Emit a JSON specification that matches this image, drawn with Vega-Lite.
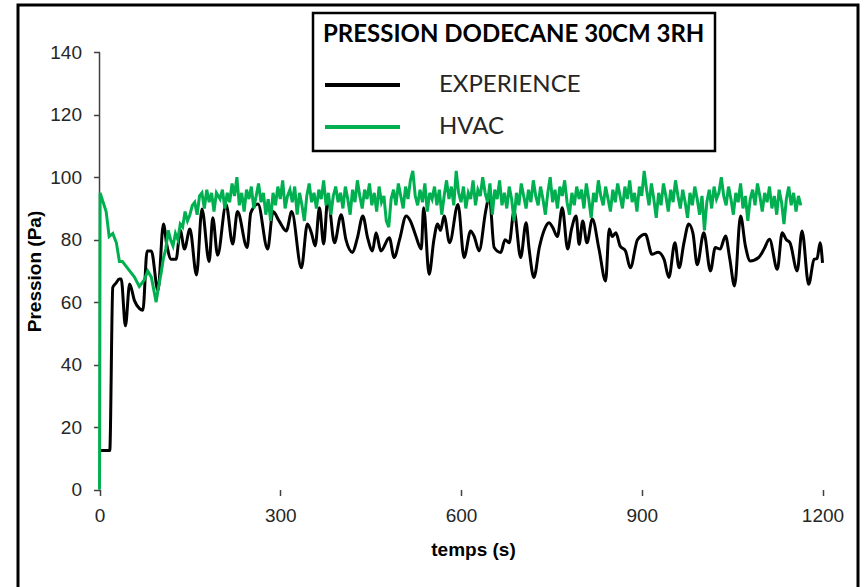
{
  "$schema": "https://vega.github.io/schema/vega-lite/v6.json",
  "width": 840,
  "height": 585,
  "padding": {"left": 18, "top": 5, "right": 8, "bottom": 0},
  "autosize": {"type": "pad"},
  "background": "white",
  "config": {
    "view": {"stroke": "black", "strokeWidth": 3},
    "legend": {"strokeWidth": 2.5},
    "axis": {
      "grid": false,
      "domain": false,
      "tickSize": 6,
      "tickColor": "#404040",
      "tickWidth": 1.5,
      "labelFont": "Liberation Sans",
      "labelFontSize": 19,
      "labelColor": "#262626",
      "titleFont": "Liberation Sans",
      "titleFontSize": 19,
      "titleFontWeight": "bold",
      "titleColor": "#000000"
    }
  },
  "datasets": {
    "exp": [
      {"t":2,"v":12.5},{"t":17,"v":12.5},{"t":22,"v":64.7},{"t":27,"v":66},{"t":33,"v":67.4},{"t":36,"v":67.4},{"t":43,"v":52.4},{"t":50,"v":65.8},{"t":58,"v":60.5},{"t":66,"v":58},{"t":72,"v":57.4},{"t":79,"v":76.4},{"t":86,"v":76.4},{"t":97,"v":63.6},{"t":106,"v":85},{"t":112,"v":78},{"t":119,"v":73.7},{"t":127,"v":73.7},{"t":134,"v":83},{"t":141,"v":77},{"t":150,"v":83.4},{"t":161,"v":68.7},{"t":170,"v":89.8},{"t":182,"v":73},{"t":188,"v":87},{"t":196,"v":75},{"t":210,"v":91.3},{"t":221,"v":78.6},{"t":229,"v":89},{"t":245,"v":77.5},{"t":251,"v":88.6},{"t":263,"v":91.4},{"t":279,"v":77},{"t":288,"v":89},{"t":298,"v":86},{"t":310,"v":82.8},{"t":319,"v":89},{"t":335,"v":71},{"t":345,"v":85},{"t":352,"v":82},{"t":358,"v":78},{"t":365,"v":90.2},{"t":372,"v":78.6},{"t":379,"v":93.4},{"t":390,"v":79},{"t":401,"v":88},{"t":409,"v":80},{"t":420,"v":75.9},{"t":428,"v":80.6},{"t":437,"v":87.6},{"t":445,"v":80.6},{"t":453,"v":76.4},{"t":459,"v":82.2},{"t":467,"v":76.4},{"t":481,"v":80.6},{"t":489,"v":74.3},{"t":498,"v":80},{"t":509,"v":87.6},{"t":516,"v":86},{"t":525,"v":81.2},{"t":534,"v":77},{"t":538,"v":90.2},{"t":547,"v":68.9},{"t":555,"v":80},{"t":561,"v":85},{"t":566,"v":83},{"t":572,"v":87.6},{"t":581,"v":79},{"t":595,"v":91.3},{"t":605,"v":74.3},{"t":616,"v":82.8},{"t":622,"v":81},{"t":630,"v":76.4},{"t":641,"v":89.2},{"t":647,"v":94},{"t":655,"v":77.5},{"t":666,"v":75.9},{"t":673,"v":80},{"t":680,"v":79},{"t":688,"v":89.2},{"t":699,"v":74.3},{"t":708,"v":85.4},{"t":713,"v":77},{"t":721,"v":67.9},{"t":730,"v":77.5},{"t":738,"v":83},{"t":746,"v":85.4},{"t":752,"v":84},{"t":760,"v":81},{"t":768,"v":90.2},{"t":777,"v":77},{"t":783,"v":83},{"t":791,"v":87.6},{"t":796,"v":78.5},{"t":802,"v":86},{"t":809,"v":79},{"t":818,"v":86.6},{"t":829,"v":77},{"t":840,"v":66.8},{"t":846,"v":83.4},{"t":851,"v":81},{"t":857,"v":82.2},{"t":864,"v":78},{"t":873,"v":76.4},{"t":881,"v":71},{"t":893,"v":80},{"t":906,"v":81.7},{"t":917,"v":75.3},{"t":927,"v":76},{"t":937,"v":73.7},{"t":945,"v":67.9},{"t":955,"v":79},{"t":962,"v":71},{"t":970,"v":79},{"t":978,"v":85},{"t":985,"v":82},{"t":992,"v":72},{"t":1003,"v":82.2},{"t":1014,"v":70},{"t":1022,"v":77.5},{"t":1030,"v":77},{"t":1039,"v":81.2},{"t":1046,"v":74},{"t":1054,"v":65.2},{"t":1064,"v":87.6},{"t":1072,"v":78},{"t":1080,"v":73.2},{"t":1094,"v":74.3},{"t":1103,"v":77},{"t":1112,"v":80.1},{"t":1125,"v":70.5},{"t":1133,"v":82.2},{"t":1140,"v":80},{"t":1146,"v":79},{"t":1158,"v":70},{"t":1166,"v":82.8},{"t":1177,"v":65.7},{"t":1186,"v":73.7},{"t":1191,"v":74},{"t":1196,"v":79},{"t":1200,"v":72.6}
    ],
    "hvac": [
      {"t":0,"v":0},{"t":1,"v":95},{"t":6,"v":92},{"t":11,"v":89},{"t":16,"v":81},{"t":22,"v":82},{"t":28,"v":79},{"t":33,"v":73},{"t":38,"v":73},{"t":42,"v":72},{"t":50,"v":70},{"t":58,"v":68},{"t":66,"v":65},{"t":70,"v":66},{"t":74,"v":67},{"t":80,"v":70},{"t":86,"v":68},{"t":90,"v":64},{"t":94,"v":60},{"t":98,"v":65},{"t":102,"v":69},{"t":106,"v":74},{"t":110,"v":77},{"t":114,"v":83},{"t":118,"v":80},{"t":122,"v":78},{"t":126,"v":82},{"t":130,"v":80},{"t":134,"v":85},{"t":138,"v":84},{"t":142,"v":89},{"t":146,"v":86},{"t":150,"v":88},{"t":154,"v":91},{"t":158,"v":92},{"t":162,"v":88},{"t":166,"v":94},{"t":170,"v":95},{"t":174,"v":90},{"t":178,"v":96},{"t":182,"v":92},{"t":186,"v":95},{"t":190,"v":89},{"t":194,"v":95},
      {"t":200,"v":93},{"t":204,"v":96},{"t":208,"v":90},{"t":212,"v":95},{"t":216,"v":92},{"t":220,"v":98},{"t":224,"v":94},{"t":228,"v":100},{"t":232,"v":91},{"t":236,"v":95},
      {"t":240,"v":89},{"t":244,"v":96},{"t":248,"v":93},{"t":252,"v":97},{"t":256,"v":90},{"t":260,"v":94},{"t":264,"v":98},{"t":268,"v":92},{"t":272,"v":95},{"t":276,"v":88},
      {"t":280,"v":93},{"t":284,"v":86},{"t":288,"v":95},{"t":292,"v":91},{"t":296,"v":97},{"t":300,"v":93},{"t":304,"v":99},{"t":308,"v":90},{"t":312,"v":94},{"t":316,"v":96},
      {"t":320,"v":92},{"t":324,"v":97},{"t":328,"v":88},{"t":332,"v":95},{"t":336,"v":91},{"t":340,"v":86},{"t":344,"v":94},{"t":348,"v":98},{"t":352,"v":92},{"t":356,"v":95},
      {"t":360,"v":90},{"t":364,"v":96},{"t":368,"v":93},{"t":372,"v":99},{"t":376,"v":91},{"t":380,"v":95},{"t":384,"v":88},{"t":388,"v":94},{"t":392,"v":97},{"t":396,"v":92},
      {"t":400,"v":95},{"t":404,"v":90},{"t":408,"v":97},{"t":412,"v":93},{"t":416,"v":88},{"t":420,"v":96},{"t":424,"v":92},{"t":428,"v":99},{"t":432,"v":94},{"t":436,"v":90},
      {"t":440,"v":96},{"t":444,"v":93},{"t":448,"v":98},{"t":452,"v":91},{"t":456,"v":95},{"t":460,"v":89},{"t":464,"v":97},{"t":468,"v":92},{"t":472,"v":94},{"t":476,"v":86},
      {"t":480,"v":84},{"t":484,"v":93},{"t":488,"v":96},{"t":492,"v":91},{"t":496,"v":98},{"t":500,"v":94},{"t":504,"v":90},{"t":508,"v":97},{"t":512,"v":93},{"t":516,"v":99},
      {"t":520,"v":102},{"t":524,"v":94},{"t":528,"v":91},{"t":532,"v":96},{"t":536,"v":92},{"t":540,"v":98},{"t":544,"v":89},{"t":548,"v":95},{"t":552,"v":93},{"t":556,"v":97},
      {"t":560,"v":91},{"t":564,"v":96},{"t":568,"v":88},{"t":572,"v":94},{"t":576,"v":99},{"t":580,"v":93},{"t":584,"v":97},{"t":588,"v":91},{"t":592,"v":102},{"t":596,"v":95},
      {"t":600,"v":92},{"t":604,"v":97},{"t":608,"v":90},{"t":612,"v":95},{"t":616,"v":93},{"t":620,"v":99},{"t":624,"v":91},{"t":628,"v":96},{"t":632,"v":94},{"t":636,"v":100},
      {"t":640,"v":95},{"t":644,"v":92},{"t":648,"v":98},{"t":652,"v":88},{"t":656,"v":96},{"t":660,"v":93},{"t":664,"v":99},{"t":668,"v":91},{"t":672,"v":95},{"t":676,"v":90},
      {"t":680,"v":97},{"t":684,"v":93},{"t":688,"v":86},{"t":692,"v":95},{"t":696,"v":91},{"t":700,"v":98},{"t":704,"v":94},{"t":708,"v":90},{"t":712,"v":96},{"t":716,"v":92},
      {"t":720,"v":99},{"t":724,"v":94},{"t":728,"v":91},{"t":732,"v":97},{"t":736,"v":93},{"t":740,"v":88},{"t":744,"v":95},{"t":748,"v":100},{"t":752,"v":92},{"t":756,"v":96},
      {"t":760,"v":90},{"t":764,"v":97},{"t":768,"v":94},{"t":772,"v":99},{"t":776,"v":92},{"t":780,"v":88},{"t":784,"v":95},{"t":788,"v":91},{"t":792,"v":97},{"t":796,"v":93},
      {"t":800,"v":96},{"t":804,"v":90},{"t":808,"v":98},{"t":812,"v":93},{"t":816,"v":87},{"t":820,"v":95},{"t":824,"v":92},{"t":828,"v":99},{"t":832,"v":94},{"t":836,"v":91},
      {"t":840,"v":97},{"t":844,"v":93},{"t":848,"v":89},{"t":852,"v":96},{"t":856,"v":92},{"t":860,"v":98},{"t":864,"v":94},{"t":868,"v":90},{"t":872,"v":97},{"t":876,"v":93},
      {"t":880,"v":99},{"t":884,"v":92},{"t":888,"v":95},{"t":892,"v":89},{"t":896,"v":97},{"t":900,"v":94},{"t":904,"v":102},{"t":908,"v":96},{"t":912,"v":91},{"t":916,"v":98},
      {"t":920,"v":93},{"t":924,"v":87},{"t":928,"v":95},{"t":932,"v":91},{"t":936,"v":98},{"t":940,"v":94},{"t":944,"v":89},{"t":948,"v":96},{"t":952,"v":92},{"t":956,"v":99},
      {"t":960,"v":94},{"t":964,"v":90},{"t":968,"v":96},{"t":972,"v":92},{"t":976,"v":87},{"t":980,"v":95},{"t":984,"v":91},{"t":988,"v":97},{"t":992,"v":93},{"t":996,"v":88},
      {"t":1000,"v":94},{"t":1004,"v":83},{"t":1008,"v":92},{"t":1012,"v":96},{"t":1016,"v":90},{"t":1020,"v":97},{"t":1024,"v":93},{"t":1028,"v":95},{"t":1032,"v":100},{"t":1036,"v":94},
      {"t":1040,"v":91},{"t":1044,"v":97},{"t":1048,"v":93},{"t":1052,"v":88},{"t":1056,"v":95},{"t":1060,"v":92},{"t":1064,"v":98},{"t":1068,"v":90},{"t":1072,"v":94},{"t":1076,"v":86},
      {"t":1080,"v":93},{"t":1084,"v":96},{"t":1088,"v":91},{"t":1092,"v":98},{"t":1096,"v":94},{"t":1100,"v":89},{"t":1104,"v":95},{"t":1108,"v":92},{"t":1112,"v":97},{"t":1116,"v":90},
      {"t":1120,"v":94},{"t":1124,"v":88},{"t":1128,"v":96},{"t":1132,"v":92},{"t":1136,"v":85},{"t":1140,"v":93},{"t":1144,"v":97},{"t":1148,"v":91},{"t":1152,"v":95},{"t":1156,"v":89},
      {"t":1160,"v":94},{"t":1164,"v":91}
    ],
    "yaxisline": [{"t": 0, "lo": 0, "hi": 140}]
  },
  "layer": [
    {
      "mark": {"type": "rule", "color": "#404040", "strokeWidth": 1.5},
      "encoding": {
        "x": {"datum": 0, "type": "quantitative"},
        "x2": {"datum": 1200},
        "y": {"datum": 0, "type": "quantitative"}
      }
    },
    {
      "data": {"name": "yaxisline"},
      "mark": {"type": "rule", "color": "#404040", "strokeWidth": 1.5},
      "encoding": {
        "x": {"field": "t", "type": "quantitative"},
        "y": {"field": "lo", "type": "quantitative"},
        "y2": {"field": "hi"}
      }
    },
    {
      "data": {"name": "exp"},
      "mark": {"type": "line", "strokeWidth": 3, "interpolate": "monotone"},
      "encoding": {
        "x": {
          "field": "t", "type": "quantitative",
          "scale": {"domain": [-135.3, 1258.9], "nice": false, "zero": false},
          "axis": {
            "values": [0, 300, 600, 900, 1200],
            "format": "d",
            "offset": -100.5,
            "labelPadding": 11,
            "title": "temps (s)",
            "titleX": 455,
            "titlePadding": 15
          }
        },
        "y": {
          "field": "v", "type": "quantitative",
          "scale": {"domain": [-32.18, 155.15], "nice": false, "zero": false},
          "axis": {
            "values": [0, 20, 40, 60, 80, 100, 120, 140],
            "format": "d",
            "offset": -81.5,
            "labelPadding": 12,
            "title": "Pression (Pa)",
            "titleY": 266,
            "titlePadding": 5
          }
        },
        "color": {
          "datum": "EXPERIENCE",
          "type": "nominal",
          "scale": {"domain": ["EXPERIENCE", "HVAC"], "range": ["#000000", "#00B050"]},
          "legend": {
            "orient": "none",
            "legendX": 295,
            "legendY": 8,
            "strokeColor": "#000000",
            "fillColor": "#ffffff",
            "padding": 10,
            "title": "PRESSION DODECANE 30CM 3RH",
            "titleLimit": 0,
            "titleFont": "Lato",
            "titleFontSize": 24,
            "titleFontWeight": "bold",
            "titleColor": "#000000",
            "titleAnchor": "start",
            "titlePadding": 24,
            "symbolType": "stroke",
            "symbolSize": 5625,
            "symbolStrokeWidth": 4,
            "labelFont": "Lato",
            "labelFontSize": 24,
            "labelColor": "#262626",
            "labelOffset": 37,
            "clipHeight": 28,
            "rowPadding": 14
          }
        }
      }
    },
    {
      "data": {"name": "hvac"},
      "mark": {"type": "line", "strokeWidth": 3},
      "encoding": {
        "x": {"field": "t", "type": "quantitative"},
        "y": {"field": "v", "type": "quantitative"},
        "color": {"datum": "HVAC", "type": "nominal"}
      }
    }
  ]
}
